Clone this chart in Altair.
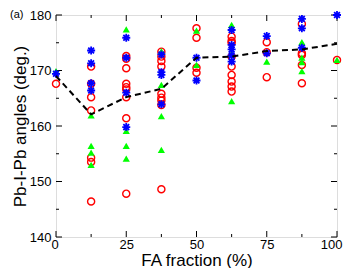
import altair as alt
import pandas as pd

# ---- data ----
red_x = [0,
         12.5, 12.5, 12.5, 12.5, 12.5, 12.5, 12.5,
         25, 25, 25, 25, 25, 25, 25, 25, 25,
         37.5, 37.5, 37.5, 37.5, 37.5, 37.5, 37.5, 37.5, 37.5,
         50, 50, 50, 50,
         62.5, 62.5, 62.5, 62.5, 62.5, 62.5, 62.5, 62.5, 62.5,
         75, 75, 75,
         87.5, 87.5, 87.5, 87.5, 87.5,
         100]
red_y = [167.6,
         170.7, 167.6, 165.2, 162.8, 154.3, 153.5, 146.4,
         172.6, 172.1, 170.4, 167.6, 167.0, 166.6, 165.2, 161.4, 147.8,
         173.4, 172.5, 171.7, 170.7, 165.8, 165.1, 164.6, 163.8, 148.6,
         177.6, 175.9, 170.5, 169.6,
         176.1, 175.3, 175.0, 172.5, 170.7, 169.2, 168.0, 167.1, 166.2,
         175.1, 173.3, 168.8,
         178.4, 173.1, 172.8, 171.0, 167.7,
         171.9]

green_x = [0,
           12.5, 12.5, 12.5, 12.5,
           25, 25, 25, 25,
           37.5, 37.5, 37.5, 37.5,
           50, 50,
           62.5, 62.5, 62.5,
           75,
           87.5, 87.5, 87.5, 87.5,
           100]
green_y = [169.9,
           161.9, 156.4, 155.2, 153.0,
           177.4, 159.1, 156.4, 154.1,
           173.5, 167.4, 161.8, 155.7,
           177.2, 171.0,
           178.2, 173.1, 164.5,
           171.6,
           175.1, 172.3, 171.5, 169.9,
           171.9]

blue_x = [0,
          12.5, 12.5, 12.5, 12.5,
          25, 25, 25, 25,
          37.5, 37.5, 37.5, 37.5,
          50, 50,
          62.5, 62.5, 62.5, 62.5, 62.5,
          75, 75,
          87.5, 87.5, 87.5,
          100]
blue_y = [169.4,
          173.6, 171.3, 167.7, 166.4,
          175.9, 172.3, 166.0, 159.8,
          172.9, 169.7, 169.2, 163.9,
          172.3, 168.2,
          177.3, 174.6, 173.8, 172.7, 171.6,
          176.2, 173.1,
          179.3, 177.6, 174.1,
          180.0]

avg_x = [0, 12.5, 25, 37.5, 50, 62.5, 75, 87.5, 100]
avg_y = [169.0, 162.1, 165.2, 166.7, 172.3, 172.5, 173.5, 173.8, 174.8]

x_major = [0, 25, 50, 75, 100]
x_minor = [12.5, 37.5, 62.5, 87.5]
y_major = [140, 150, 160, 170, 180]
y_minor = [145, 155, 165, 175]

W, H = 281, 222
FONT = "Liberation Sans"

xscale = alt.Scale(domain=[0, 100], nice=False, zero=False)
yscale = alt.Scale(domain=[140, 180], nice=False, zero=False)
xaxis = alt.Axis(values=x_major, format="d", title="FA fraction (%)", grid=False,
                 ticks=False, domain=False, labelFlush=True, labelFlushOffset=5,
                 labelOverlap=False,
                 labelPadding=1, labelFontSize=13, labelFont=FONT, labelColor="black",
                 titleFont=FONT, titleFontSize=17, titleFontWeight="normal",
                 titleColor="black", titleX=W / 2, titleY=28, titleBaseline="alphabetic",
                 titleAlign="center")
yaxis = alt.Axis(values=y_major, format="d", title="Pb-I-Pb angles (deg.)", grid=False,
                 ticks=False, domain=False, labelFlush=False, labelOverlap=False,
                 labelPadding=5, labelFontSize=13, labelFont=FONT, labelColor="black",
                 titleFont=FONT, titleFontSize=17, titleFontWeight="normal",
                 titleColor="black", titleX=-36, titleY=H / 2, titleAngle=270,
                 titleBaseline="middle", titleAlign="center")


def X():
    return alt.X("x:Q", scale=xscale, axis=xaxis)


def Y():
    return alt.Y("y:Q", scale=yscale, axis=yaxis)


red_df = pd.DataFrame({"x": red_x, "y": red_y})
green_df = pd.DataFrame({"x": green_x, "y": green_y})
blue_df = pd.DataFrame({"x": blue_x, "y": blue_y})
avg_df = pd.DataFrame({"x": avg_x, "y": avg_y})

red = alt.Chart(red_df).mark_point(shape="circle", filled=False, color="#ff0000",
                                   strokeWidth=1.4, size=50, opacity=1).encode(x=X(), y=Y())
green = alt.Chart(green_df).mark_point(shape="triangle-up", filled=True, color="#00ff00",
                                       size=52, opacity=1).encode(x=X(), y=Y())
star = "M-1,0L1,0M0,-1L0,1M-0.72,-0.72L0.72,0.72M-0.72,0.72L0.72,-0.72"
blue = alt.Chart(blue_df).mark_point(shape=star, filled=False, color="#0000ff",
                                     strokeWidth=1.8, size=64, opacity=1).encode(x=X(), y=Y())
line = alt.Chart(avg_df).mark_line(color="black", strokeWidth=2,
                                   strokeDash=[6, 4]).encode(x=X(), y=Y())


def xticks(vals, length):
    d = pd.DataFrame({"x": vals})
    b = alt.Chart(d).mark_rule(color="black", strokeWidth=1).encode(
        x=alt.X("x:Q", scale=xscale, axis=xaxis), y=alt.value(H), y2=alt.value(H - length))
    t = alt.Chart(d).mark_rule(color="black", strokeWidth=1).encode(
        x=alt.X("x:Q", scale=xscale, axis=xaxis), y=alt.value(0), y2=alt.value(length))
    return [b, t]


def yticks(vals, length):
    d = pd.DataFrame({"y": vals})
    l = alt.Chart(d).mark_rule(color="black", strokeWidth=1).encode(
        y=alt.Y("y:Q", scale=yscale, axis=yaxis), x=alt.value(0), x2=alt.value(length))
    r = alt.Chart(d).mark_rule(color="black", strokeWidth=1).encode(
        y=alt.Y("y:Q", scale=yscale, axis=yaxis), x=alt.value(W), x2=alt.value(W - length))
    return [l, r]


label = alt.Chart(pd.DataFrame({"t": ["(a)"]})).mark_text(
    font=FONT, fontSize=11, color="black", align="left", baseline="top").encode(
    text="t:N", x=alt.value(-46), y=alt.value(-6))

layers = (xticks(x_major, 6) + xticks(x_minor, 3) + yticks(y_major, 6) + yticks(y_minor, 3)
          + [red, green, blue, line, label])

chart = alt.layer(*layers).properties(
    width=W, height=H,
    autosize=alt.AutoSizeParams(type="none"),
    padding={"left": 48, "top": 7, "right": 6, "bottom": 31},
).configure_view(stroke="black", strokeWidth=1.2).configure(background="white")

chart.save("out.html", embed_options={"renderer": "svg", "actions": False})
